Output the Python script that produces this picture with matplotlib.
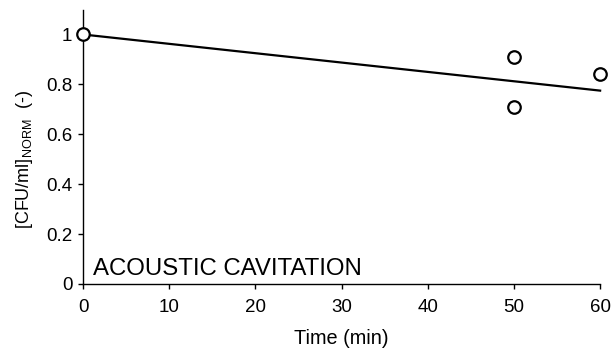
import matplotlib
matplotlib.use("Agg")
import matplotlib.pyplot as plt

# Data
time_min = [0, 50, 50, 60]
cfu_norm = [1.0, 0.91, 0.71, 0.84]
fit_time = [0, 60]
fit_value = [1.0, 0.775]
x_ticks = [0, 10, 20, 30, 40, 50, 60]
y_ticks = [0, 0.2, 0.4, 0.6, 0.8, 1]
y_tick_labels = ["0", "0.2", "0.4", "0.6", "0.8", "1"]

plt.rcParams["font.family"] = ["Liberation Sans", "DejaVu Sans"]
plt.rcParams["mathtext.fontset"] = "custom"
plt.rcParams["mathtext.rm"] = "Liberation Sans"

fig = plt.figure(figsize=(6.13, 3.53), dpi=100)
ax = fig.add_axes([0.1354, 0.1955, 0.979 - 0.1354, 0.973 - 0.1955])

# Fitted line
ax.plot(fit_time, fit_value, color="black", linewidth=1.6, clip_on=False, zorder=2)

# Measured points
ax.plot(time_min, cfu_norm, linestyle="none", marker="o", markersize=9,
        markerfacecolor="white", markeredgecolor="black", markeredgewidth=1.6,
        clip_on=False, zorder=3)

ax.set_xlim(0, 60)
ax.set_ylim(0, 1.1)
ax.set_xticks(x_ticks)
ax.set_yticks(y_ticks)
ax.set_yticklabels(y_tick_labels)
ax.tick_params(direction="out", length=3.6, width=1, labelsize=13.5)
ax.tick_params(axis="x", pad=7.5)
ax.tick_params(axis="y", pad=4)

for side in ["top", "right"]:
    ax.spines[side].set_visible(False)
for side in ["left", "bottom"]:
    ax.spines[side].set_linewidth(1)

ax.set_xlabel("Time (min)", fontsize=14.3, labelpad=9)
ax.set_ylabel(r"[CFU/ml]$_{\mathregular{NORM}}$  (-)", fontsize=13)
ax.yaxis.set_label_coords(-0.093, 0.4536)

ax.text(1.2, 0.015, "ACOUSTIC CAVITATION", fontsize=17.3, ha="left", va="bottom")

fig.savefig("out.png", dpi=100)
